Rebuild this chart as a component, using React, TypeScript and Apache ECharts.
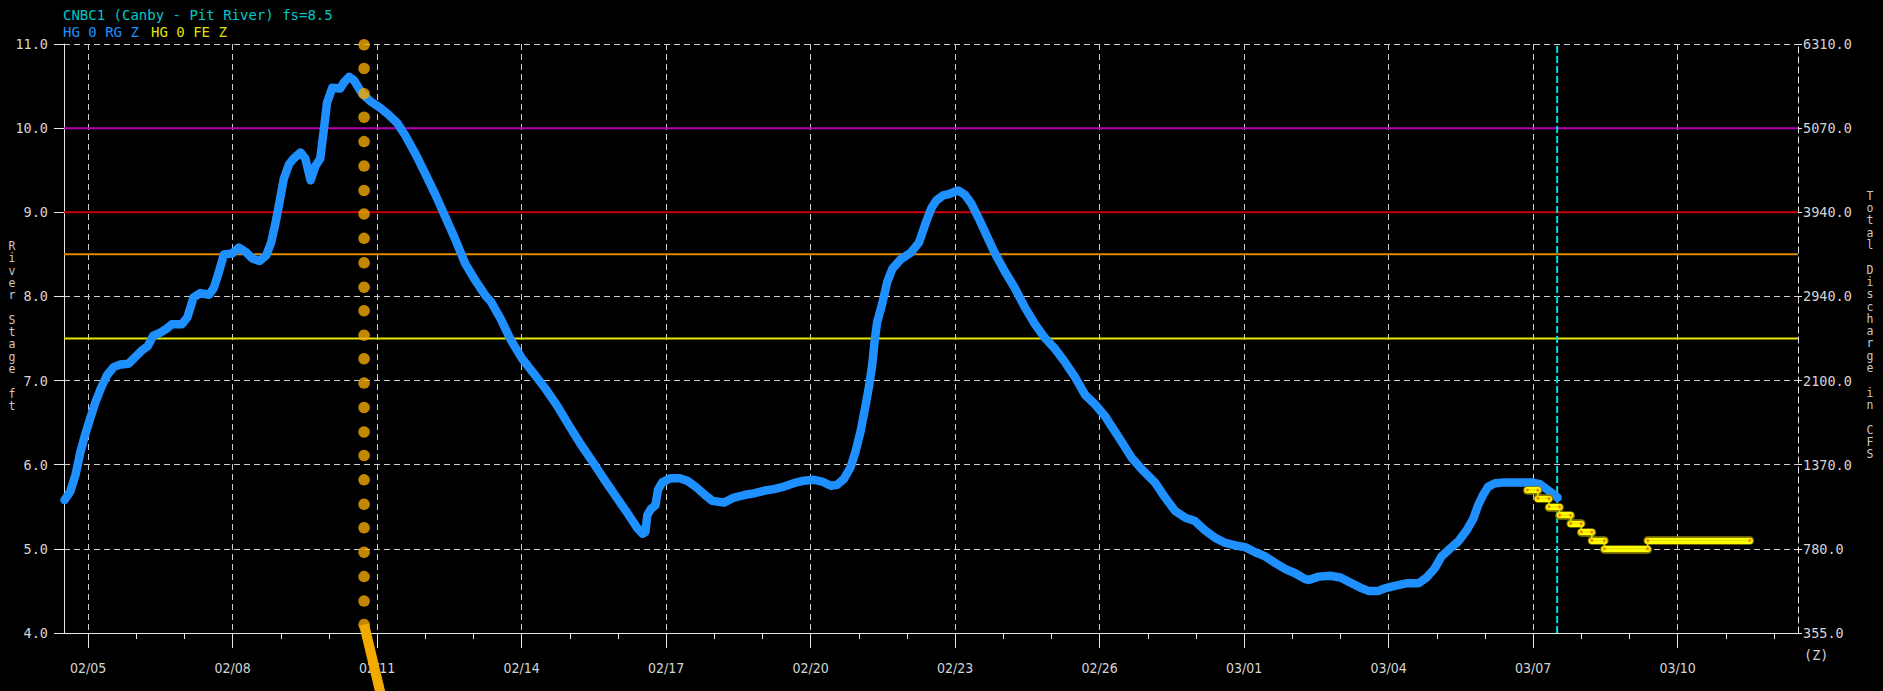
import React, { useEffect, useRef } from "react";
import * as echarts from "echarts";

// ---------- texts ----------
const TITLE = "CNBC1 (Canby - Pit River) fs=8.5";
const OBS_LABEL = "HG 0 RG Z";
const FCST_LABEL = "HG 0 FE Z";
const LEFT_NAME = "River Stage ft";
const RIGHT_NAME = "Total Discharge in CFS";
const TZ_LABEL = "(Z)";

// ---------- axes (x in days since 02/05 00Z) ----------
const dayMin = -0.5;
const dayMax = 35.5;
const tickDays = [0, 3, 6, 9, 12, 15, 18, 21, 24, 27, 30, 33];
const tickLabels = ["02/05", "02/08", "02/11", "02/14", "02/17", "02/20", "02/23", "02/26", "03/01", "03/04", "03/07", "03/10"];
const dailyTicks = [0, 1, 2, 3, 4, 5, 6, 7, 8, 9, 10, 11, 12, 13, 14, 15, 16, 17, 18, 19, 20, 21, 22, 23, 24, 25, 26, 27, 28, 29, 30, 31, 32, 33, 34, 35];
const stageTicks = [4, 5, 6, 7, 8, 9, 10, 11];
const flowLabels = ["355.0", "780.0", "1370.0", "2100.0", "2940.0", "3940.0", "5070.0", "6310.0"];

// ---------- flood categories ----------
const floodStages = [10, 9, 8.5, 7.5];
const floodColors = ["#b400b4", "#cc0000", "#e08a00", "#e6e600"];

// ---------- current time line ----------
const nowDay = 30.5;

// ---------- orange marker column ----------
const markerDay = 5.73;
const markerStages = [10.99, 10.71, 10.41, 10.13, 9.84, 9.55, 9.26, 8.98, 8.69, 8.4, 8.11, 7.83, 7.54, 7.26, 6.97, 6.68, 6.39, 6.11, 5.82, 5.53, 5.25, 4.96, 4.67, 4.38, 4.1];
const markerTailDay = [5.73, 6.19];
const markerTailStage = [4.1, 3.0];

// ---------- observed stage (HG 0 RG Z) ----------
const obsDay = [
  -0.49, -0.37, -0.26, -0.16, -0.06, 0.05, 0.15, 0.26, 0.39, 0.53, 0.67, 0.84, 0.98, 1.12, 1.24, 1.35, 1.5, 1.64, 1.74, 1.95,
  2.06, 2.19, 2.33, 2.51, 2.61, 2.71, 2.82, 2.99, 3.13, 3.27, 3.41, 3.56, 3.7, 3.8, 3.89, 3.98, 4.06, 4.17, 4.27, 4.41,
  4.51, 4.62, 4.72, 4.82, 4.89, 4.96, 5.07, 5.23, 5.32, 5.42, 5.52, 5.69, 5.86, 6.07, 6.24, 6.42, 6.59, 6.8, 7.0, 7.21,
  7.42, 7.63, 7.83, 8.04, 8.25, 8.36, 8.56, 8.77, 9.01, 9.26, 9.5, 9.74, 9.98, 10.23, 10.47, 10.71, 10.95, 11.19, 11.4, 11.51,
  11.57, 11.61, 11.68, 11.78, 11.83, 11.92, 12.09, 12.27, 12.44, 12.61, 12.79, 12.96, 13.2, 13.41, 13.62, 13.82, 14.03, 14.24, 14.45, 14.65,
  14.86, 15.07, 15.24, 15.42, 15.55, 15.69, 15.83, 15.93, 16.04, 16.14, 16.21, 16.28, 16.33, 16.38, 16.49, 16.59, 16.7, 16.87, 17.08, 17.25,
  17.4, 17.51, 17.61, 17.75, 17.89, 18.06, 18.2, 18.34, 18.48, 18.65, 18.83, 19.03, 19.24, 19.45, 19.66, 19.86, 20.07, 20.28, 20.49, 20.7,
  20.9, 21.11, 21.29, 21.46, 21.67, 21.87, 22.15, 22.36, 22.57, 22.78, 22.98, 23.19, 23.4, 23.61, 23.82, 24.02, 24.23, 24.44, 24.65, 24.86,
  25.06, 25.27, 25.34, 25.55, 25.79, 26.0, 26.17, 26.41, 26.58, 26.79, 26.92, 27.13, 27.37, 27.62, 27.79, 27.96, 28.1, 28.27, 28.45, 28.62,
  28.76, 28.86, 28.97, 29.07, 29.21, 29.42, 29.69, 29.97, 30.14, 30.28, 30.42, 30.51,
];
const obsStage = [
  5.58, 5.68, 5.88, 6.15, 6.36, 6.56, 6.74, 6.9, 7.06, 7.16, 7.19, 7.2, 7.28, 7.36, 7.41, 7.53, 7.57, 7.62, 7.67, 7.67,
  7.75, 7.99, 8.04, 8.02, 8.1, 8.28, 8.5, 8.51, 8.58, 8.53, 8.45, 8.42, 8.49, 8.64, 8.87, 9.14, 9.39, 9.57, 9.64, 9.71,
  9.64, 9.38, 9.55, 9.64, 9.96, 10.3, 10.48, 10.47, 10.55, 10.61, 10.57, 10.41, 10.32, 10.24, 10.16, 10.06, 9.91, 9.69, 9.46, 9.21,
  8.94, 8.67, 8.39, 8.19, 8.01, 7.94, 7.74, 7.49, 7.26, 7.08, 6.9, 6.7, 6.47, 6.24, 6.04, 5.83, 5.63, 5.43, 5.25, 5.18,
  5.2, 5.4, 5.47, 5.52, 5.7, 5.79, 5.84, 5.84, 5.81, 5.74, 5.65, 5.57, 5.55, 5.61, 5.64, 5.66, 5.69, 5.71, 5.74, 5.78,
  5.81, 5.82, 5.8, 5.75, 5.76, 5.83, 5.97, 6.15, 6.4, 6.7, 6.92, 7.19, 7.47, 7.69, 7.92, 8.17, 8.33, 8.44, 8.52, 8.64,
  8.89, 9.05, 9.14, 9.2, 9.22, 9.26, 9.21, 9.1, 8.94, 8.73, 8.51, 8.3, 8.1, 7.87, 7.67, 7.51, 7.38, 7.22, 7.04, 6.83,
  6.72, 6.58, 6.42, 6.27, 6.08, 5.95, 5.79, 5.61, 5.45, 5.37, 5.33, 5.22, 5.13, 5.07, 5.04, 5.02, 4.96, 4.91, 4.83, 4.76,
  4.71, 4.64, 4.63, 4.67, 4.68, 4.66, 4.61, 4.54, 4.5, 4.5, 4.53, 4.56, 4.59, 4.59, 4.66, 4.77, 4.91, 5.0, 5.09, 5.22,
  5.36, 5.52, 5.65, 5.74, 5.78, 5.79, 5.79, 5.79, 5.77, 5.71, 5.65, 5.61,
];

// ---------- forecast stage (HG 0 FE Z) ----------
const fcstDay = [29.88, 30.1, 30.33, 30.55, 30.78, 31.0, 31.22, 31.48, 32.38, 34.5];
const fcstStage = [5.7, 5.6, 5.5, 5.4, 5.3, 5.2, 5.1, 5.0, 5.1, 5.1];

const MONO = '"DejaVu Sans Mono", monospace';
const DATEFONT = '"DejaVu Sans Condensed", "Liberation Sans Narrow", sans-serif';
const AXIS_TEXT = "#d4d4d4";
const AXIS_LINE = "#e6e6e6";
const GRID_LINE = "#cfcfcf";

export default function App() {
  const ref = useRef<HTMLDivElement>(null);

  useEffect(() => {
    document.body.style.margin = "0";
    document.body.style.background = "#000";
    const chart = echarts.init(ref.current as HTMLDivElement, null, { renderer: "svg" });

    const obsData = obsDay.map((d, i) => [d, obsStage[i]]);
    const stepData = fcstDay.map((d, i) => [d, fcstStage[i]]);
    const segs = fcstDay.slice(0, -1).map((d, i) => ({
      coords: [
        [d, fcstStage[i]],
        [fcstDay[i + 1], fcstStage[i]],
      ],
    }));
    const segEnds: number[][] = [];
    fcstDay.slice(0, -1).forEach((d, i) => {
      segEnds.push([d, fcstStage[i]]);
      segEnds.push([fcstDay[i + 1], fcstStage[i]]);
    });

    const floodSeries = floodStages.map((s, i) => ({
      type: "line",
      data: [
        [dayMin, s],
        [dayMax, s],
      ],
      showSymbol: false,
      silent: true,
      z: 2,
      lineStyle: { color: floodColors[i], width: 2 },
    }));

    const stacked = (s: string) => s.split("").join("\n");

    chart.setOption({
      animation: false,
      backgroundColor: "#000000",
      grid: { left: 64, right: 85, top: 44, bottom: 58, containLabel: false },
      xAxis: [
        {
          type: "value",
          min: dayMin,
          max: dayMax,
          position: "bottom",
          axisLine: { show: true, onZero: false, lineStyle: { color: AXIS_LINE, width: 1 } },
          axisTick: { show: true, customValues: tickDays, length: 15, lineStyle: { color: AXIS_LINE, width: 1 } },
          axisLabel: {
            show: true,
            customValues: tickDays,
            formatter: (v: number) => tickLabels[tickDays.indexOf(Math.round(v))] ?? "",
            color: AXIS_TEXT,
            fontFamily: DATEFONT,
            fontSize: 14,
            margin: 28,
          },
          splitLine: { show: true, lineStyle: { color: GRID_LINE, type: [6, 4], width: 1 } },
        },
        {
          type: "value",
          min: dayMin,
          max: dayMax,
          position: "bottom",
          axisLine: { show: false, onZero: false },
          axisTick: { show: true, customValues: dailyTicks, length: 6, lineStyle: { color: AXIS_LINE, width: 1 } },
          axisLabel: { show: false },
          splitLine: { show: false },
        },
      ],
      yAxis: [
        {
          type: "value",
          min: 4,
          max: 11,
          interval: 1,
          position: "left",
          axisLine: { show: true, onZero: false, lineStyle: { color: AXIS_LINE, width: 1 } },
          axisTick: { show: true, length: 10, lineStyle: { color: AXIS_LINE } },
          axisLabel: {
            formatter: (v: number) => v.toFixed(1),
            color: AXIS_TEXT,
            fontFamily: MONO,
            fontSize: 13.5,
            margin: 16,
          },
          splitLine: { show: true, lineStyle: { color: GRID_LINE, type: [6, 4], width: 1 } },
        },
        {
          type: "value",
          min: 4,
          max: 11,
          interval: 1,
          position: "right",
          axisLine: { show: true, onZero: false, lineStyle: { color: AXIS_LINE, width: 1, type: [6, 4] } },
          axisTick: { show: true, length: 4, lineStyle: { color: AXIS_LINE } },
          axisLabel: {
            formatter: (v: number) => flowLabels[stageTicks.indexOf(Math.round(v))] ?? "",
            color: AXIS_TEXT,
            fontFamily: MONO,
            fontSize: 13.5,
            margin: 5,
          },
          splitLine: { show: false },
        },
      ],
      graphic: [
        {
          type: "text",
          x: 63,
          y: 15,
          style: { text: TITLE, fill: "#00c8c8", font: `14px ${MONO}`, verticalAlign: "middle" },
        },
        {
          type: "text",
          x: 63,
          y: 32,
          style: { text: OBS_LABEL, fill: "#1e90ff", font: `14px ${MONO}`, verticalAlign: "middle" },
        },
        {
          type: "text",
          x: 151,
          y: 32,
          style: { text: FCST_LABEL, fill: "#e0e000", font: `14px ${MONO}`, verticalAlign: "middle" },
        },
        {
          type: "text",
          x: 12,
          y: 326,
          style: {
            text: stacked(LEFT_NAME),
            fill: "#c8c8c8",
            font: `11.5px ${MONO}`,
            lineHeight: 12.3,
            align: "center",
            verticalAlign: "middle",
          },
        },
        {
          type: "text",
          x: 1870,
          y: 325,
          style: {
            text: stacked(RIGHT_NAME),
            fill: "#c8c8c8",
            font: `11.5px ${MONO}`,
            lineHeight: 12.3,
            align: "center",
            verticalAlign: "middle",
          },
        },
        {
          type: "text",
          x: 1804,
          y: 655,
          style: { text: TZ_LABEL, fill: AXIS_TEXT, font: `13.5px ${MONO}`, verticalAlign: "middle" },
        },
      ],
      series: [
        ...floodSeries,
        {
          type: "line",
          name: "now",
          data: [
            [nowDay, 4],
            [nowDay, 11],
          ],
          showSymbol: false,
          silent: true,
          z: 2,
          lineStyle: { color: "#00e0e0", width: 2, type: [7, 3] },
        },
        {
          type: "line",
          name: OBS_LABEL,
          data: obsData,
          showSymbol: false,
          silent: true,
          z: 3,
          lineStyle: { color: "#1e90ff", width: 8.5, cap: "round", join: "round" },
        },
        {
          type: "line",
          name: "fcst-step",
          data: stepData,
          step: "end",
          showSymbol: false,
          silent: true,
          z: 4,
          lineStyle: { color: "#e6e600", width: 1.5 },
        },
        {
          type: "lines",
          coordinateSystem: "cartesian2d",
          data: segs,
          silent: true,
          z: 4,
          lineStyle: { color: "#8a7c00", width: 8.5, cap: "round", opacity: 1 },
        },
        {
          type: "lines",
          coordinateSystem: "cartesian2d",
          data: segs,
          silent: true,
          z: 4,
          lineStyle: { color: "#ffff00", width: 6, cap: "round", opacity: 1 },
        },
        {
          type: "scatter",
          data: segEnds,
          symbol: "circle",
          symbolSize: 3,
          silent: true,
          z: 4,
          itemStyle: { color: "#ff5a00" },
        },
        {
          type: "scatter",
          name: "marker",
          data: markerStages.map((s) => [markerDay, s]),
          symbol: "circle",
          symbolSize: 11.5,
          silent: true,
          z: 5,
          itemStyle: { color: "#f2a900" },
        },
        {
          type: "line",
          name: "marker-tail",
          data: markerTailDay.map((d, i) => [d, markerTailStage[i]]),
          showSymbol: false,
          clip: false,
          silent: true,
          z: 5,
          lineStyle: { color: "#f2a900", width: 10 },
        },
      ],
    });

    return () => chart.dispose();
  }, []);

  return <div ref={ref} style={{ width: 1883, height: 691, background: "#000" }} />;
}
